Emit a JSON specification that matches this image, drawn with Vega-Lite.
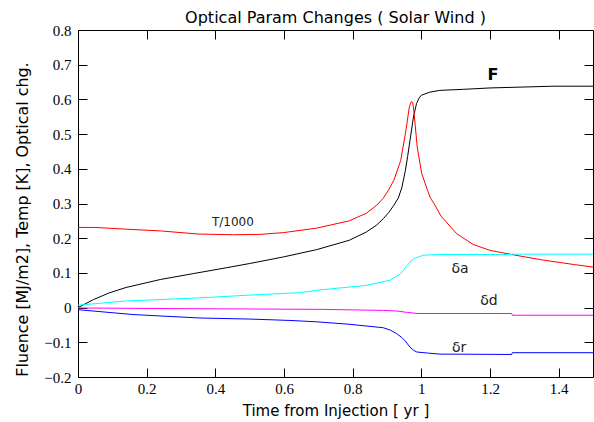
{
  "$schema": "https://vega.github.io/schema/vega-lite/v6.json",
  "width": 515,
  "height": 347,
  "autosize": {"type": "none"},
  "padding": {"left": 78, "top": 30, "right": 1, "bottom": 45},
  "background": "white",
  "title": {
    "text": "Optical Param Changes ( Solar Wind )",
    "font": "DejaVu Sans",
    "fontSize": 16,
    "fontWeight": "normal",
    "color": "black",
    "anchor": "middle",
    "offset": -3
  },
  "config": {
    "view": {"stroke": "black", "strokeWidth": 1},
    "axis": {
      "domain": false,
      "ticks": true,
      "tickSize": 9,
      "tickWidth": 1,
      "tickColor": "black",
      "tickOpacity": 1,
      "grid": false,
      "labelFont": "Liberation Serif",
      "labelFontSize": 15,
      "labelColor": "black",
      "titleFont": "DejaVu Sans",
      "titleFontSize": 15,
      "titleFontWeight": "normal",
      "titleColor": "black"
    }
  },
  "datasets": {
    "curves": [
      {"s": "F", "t": 0, "v": 0},
      {"s": "F", "t": 0.045, "v": 0.023},
      {"s": "F", "t": 0.09, "v": 0.042},
      {"s": "F", "t": 0.14, "v": 0.058},
      {"s": "F", "t": 0.24, "v": 0.081},
      {"s": "F", "t": 0.336, "v": 0.098},
      {"s": "F", "t": 0.433, "v": 0.115},
      {"s": "F", "t": 0.5, "v": 0.127},
      {"s": "F", "t": 0.598, "v": 0.146},
      {"s": "F", "t": 0.695, "v": 0.167},
      {"s": "F", "t": 0.79, "v": 0.194},
      {"s": "F", "t": 0.84, "v": 0.218},
      {"s": "F", "t": 0.87, "v": 0.238},
      {"s": "F", "t": 0.889, "v": 0.256},
      {"s": "F", "t": 0.905, "v": 0.274},
      {"s": "F", "t": 0.92, "v": 0.295},
      {"s": "F", "t": 0.933, "v": 0.316},
      {"s": "F", "t": 0.943, "v": 0.345},
      {"s": "F", "t": 0.953, "v": 0.392},
      {"s": "F", "t": 0.96, "v": 0.435},
      {"s": "F", "t": 0.967, "v": 0.482},
      {"s": "F", "t": 0.977, "v": 0.549},
      {"s": "F", "t": 0.986, "v": 0.588},
      {"s": "F", "t": 0.993, "v": 0.603},
      {"s": "F", "t": 1.0, "v": 0.612},
      {"s": "F", "t": 1.025, "v": 0.621},
      {"s": "F", "t": 1.054, "v": 0.626},
      {"s": "F", "t": 1.122, "v": 0.629},
      {"s": "F", "t": 1.2, "v": 0.633},
      {"s": "F", "t": 1.384, "v": 0.638},
      {"s": "F", "t": 1.5, "v": 0.638},

      {"s": "T", "t": 0, "v": 0.231},
      {"s": "T", "t": 0.05, "v": 0.231},
      {"s": "T", "t": 0.14, "v": 0.226},
      {"s": "T", "t": 0.24, "v": 0.221},
      {"s": "T", "t": 0.35, "v": 0.212},
      {"s": "T", "t": 0.45, "v": 0.21},
      {"s": "T", "t": 0.53, "v": 0.211},
      {"s": "T", "t": 0.598, "v": 0.216},
      {"s": "T", "t": 0.695, "v": 0.229},
      {"s": "T", "t": 0.79, "v": 0.25},
      {"s": "T", "t": 0.84, "v": 0.272},
      {"s": "T", "t": 0.87, "v": 0.295},
      {"s": "T", "t": 0.889, "v": 0.315},
      {"s": "T", "t": 0.904, "v": 0.338},
      {"s": "T", "t": 0.92, "v": 0.367},
      {"s": "T", "t": 0.94, "v": 0.424},
      {"s": "T", "t": 0.955, "v": 0.51},
      {"s": "T", "t": 0.965, "v": 0.578},
      {"s": "T", "t": 0.971, "v": 0.594},
      {"s": "T", "t": 0.975, "v": 0.59},
      {"s": "T", "t": 0.979, "v": 0.56},
      {"s": "T", "t": 0.988, "v": 0.463},
      {"s": "T", "t": 1.001, "v": 0.387},
      {"s": "T", "t": 1.018, "v": 0.338},
      {"s": "T", "t": 1.027, "v": 0.315},
      {"s": "T", "t": 1.037, "v": 0.3},
      {"s": "T", "t": 1.057, "v": 0.264},
      {"s": "T", "t": 1.103, "v": 0.213},
      {"s": "T", "t": 1.151, "v": 0.182},
      {"s": "T", "t": 1.2, "v": 0.165},
      {"s": "T", "t": 1.263, "v": 0.153},
      {"s": "T", "t": 1.348, "v": 0.138},
      {"s": "T", "t": 1.445, "v": 0.124},
      {"s": "T", "t": 1.5, "v": 0.117},

      {"s": "a", "t": 0, "v": 0.007},
      {"s": "a", "t": 0.14, "v": 0.019},
      {"s": "a", "t": 0.355, "v": 0.028},
      {"s": "a", "t": 0.5, "v": 0.036},
      {"s": "a", "t": 0.647, "v": 0.043},
      {"s": "a", "t": 0.695, "v": 0.05},
      {"s": "a", "t": 0.84, "v": 0.064},
      {"s": "a", "t": 0.909, "v": 0.079},
      {"s": "a", "t": 0.94, "v": 0.098},
      {"s": "a", "t": 0.959, "v": 0.122},
      {"s": "a", "t": 0.977, "v": 0.141},
      {"s": "a", "t": 1.006, "v": 0.151},
      {"s": "a", "t": 1.054, "v": 0.153},
      {"s": "a", "t": 1.263, "v": 0.153},
      {"s": "a", "t": 1.265, "v": 0.154},
      {"s": "a", "t": 1.5, "v": 0.154},

      {"s": "d", "t": 0, "v": -0.001},
      {"s": "d", "t": 0.14, "v": -0.002},
      {"s": "d", "t": 0.3, "v": -0.003},
      {"s": "d", "t": 0.5, "v": -0.004},
      {"s": "d", "t": 0.7, "v": -0.005},
      {"s": "d", "t": 0.89, "v": -0.008},
      {"s": "d", "t": 0.93, "v": -0.01},
      {"s": "d", "t": 0.96, "v": -0.014},
      {"s": "d", "t": 0.99, "v": -0.017},
      {"s": "d", "t": 1.263, "v": -0.017},
      {"s": "d", "t": 1.265, "v": -0.022},
      {"s": "d", "t": 1.5, "v": -0.022},

      {"s": "r", "t": 0, "v": -0.006},
      {"s": "r", "t": 0.16, "v": -0.02},
      {"s": "r", "t": 0.355, "v": -0.03},
      {"s": "r", "t": 0.5, "v": -0.033},
      {"s": "r", "t": 0.617, "v": -0.037},
      {"s": "r", "t": 0.695, "v": -0.041},
      {"s": "r", "t": 0.79, "v": -0.048},
      {"s": "r", "t": 0.889, "v": -0.058},
      {"s": "r", "t": 0.91, "v": -0.065},
      {"s": "r", "t": 0.928, "v": -0.075},
      {"s": "r", "t": 0.943, "v": -0.086},
      {"s": "r", "t": 0.953, "v": -0.096},
      {"s": "r", "t": 0.967, "v": -0.114},
      {"s": "r", "t": 0.977, "v": -0.123},
      {"s": "r", "t": 0.987, "v": -0.128},
      {"s": "r", "t": 1.018, "v": -0.131},
      {"s": "r", "t": 1.054, "v": -0.134},
      {"s": "r", "t": 1.263, "v": -0.135},
      {"s": "r", "t": 1.265, "v": -0.13},
      {"s": "r", "t": 1.5, "v": -0.13}
    ],
    "tlabel": [
      {"label": "T/1000", "t": 0.451, "v": 0.248}
    ],
    "dlabels": [
      {"label": "δa", "t": 1.113, "v": 0.111},
      {"label": "δd", "t": 1.197, "v": 0.018},
      {"label": "δr", "t": 1.11, "v": -0.117}
    ],
    "flabel": [
      {"label": "F", "t": 1.209, "v": 0.669}
    ]
  },
  "resolve": {
    "axis": {"x": "independent", "y": "independent"}
  },
  "layer": [
    {
      "data": {"name": "curves"},
      "mark": {"type": "line", "strokeWidth": 1, "clip": true},
      "encoding": {
        "x": {
          "field": "t", "type": "quantitative",
          "scale": {"domain": [0, 1.5], "nice": false, "zero": false},
          "axis": {"orient": "bottom", "offset": -9, "values": [0, 0.2, 0.4, 0.6, 0.8, 1, 1.2, 1.4], "format": ".1~f", "labelPadding": 4, "title": "Time from Injection [ yr ]", "titlePadding": 7, "labelFlush": false}
        },
        "y": {
          "field": "v", "type": "quantitative",
          "scale": {"domain": [-0.2, 0.8], "nice": false, "zero": false},
          "axis": {"orient": "left", "offset": -9, "values": [-0.2, -0.1, 0, 0.1, 0.2, 0.3, 0.4, 0.5, 0.6, 0.7, 0.8], "format": ".1~f", "labelPadding": 7, "title": "Fluence [MJ/m2], Temp [K], Optical chg.", "titleFontSize": 15.9, "titleX": -65, "titleY": 189, "titleAngle": -90, "titleAlign": "center", "titleBaseline": "middle", "labelFlush": false}
        },
        "color": {
          "field": "s", "type": "nominal",
          "scale": {"domain": ["F", "T", "a", "d", "r"], "range": ["#000000", "#ff0000", "#00ffff", "#ff00ff", "#0000ff"]},
          "legend": null
        }
      }
    },
    {
      "data": {"name": "tlabel"},
      "mark": {"type": "text", "font": "DejaVu Sans", "fontSize": 12, "color": "#222222", "align": "center", "baseline": "middle"},
      "encoding": {
        "x": {"field": "t", "type": "quantitative", "axis": {"orient": "top", "offset": -9, "labels": false, "title": null, "values": [0.2, 0.4, 0.6, 0.8, 1, 1.2, 1.4]}},
        "y": {"field": "v", "type": "quantitative", "axis": {"orient": "right", "offset": -9, "labels": false, "title": null, "values": [-0.1, 0, 0.1, 0.2, 0.3, 0.4, 0.5, 0.6, 0.7]}},
        "text": {"field": "label"}
      }
    },
    {
      "data": {"name": "dlabels"},
      "mark": {"type": "text", "font": "DejaVu Sans", "fontSize": 14, "color": "#222222", "align": "center", "baseline": "middle"},
      "encoding": {
        "x": {"field": "t", "type": "quantitative", "axis": null},
        "y": {"field": "v", "type": "quantitative", "axis": null},
        "text": {"field": "label"}
      }
    },
    {
      "data": {"name": "flabel"},
      "mark": {"type": "text", "font": "DejaVu Sans", "fontSize": 16, "fontWeight": "bold", "color": "black", "align": "center", "baseline": "middle"},
      "encoding": {
        "x": {"field": "t", "type": "quantitative", "axis": null},
        "y": {"field": "v", "type": "quantitative", "axis": null},
        "text": {"field": "label"}
      }
    }
  ]
}
